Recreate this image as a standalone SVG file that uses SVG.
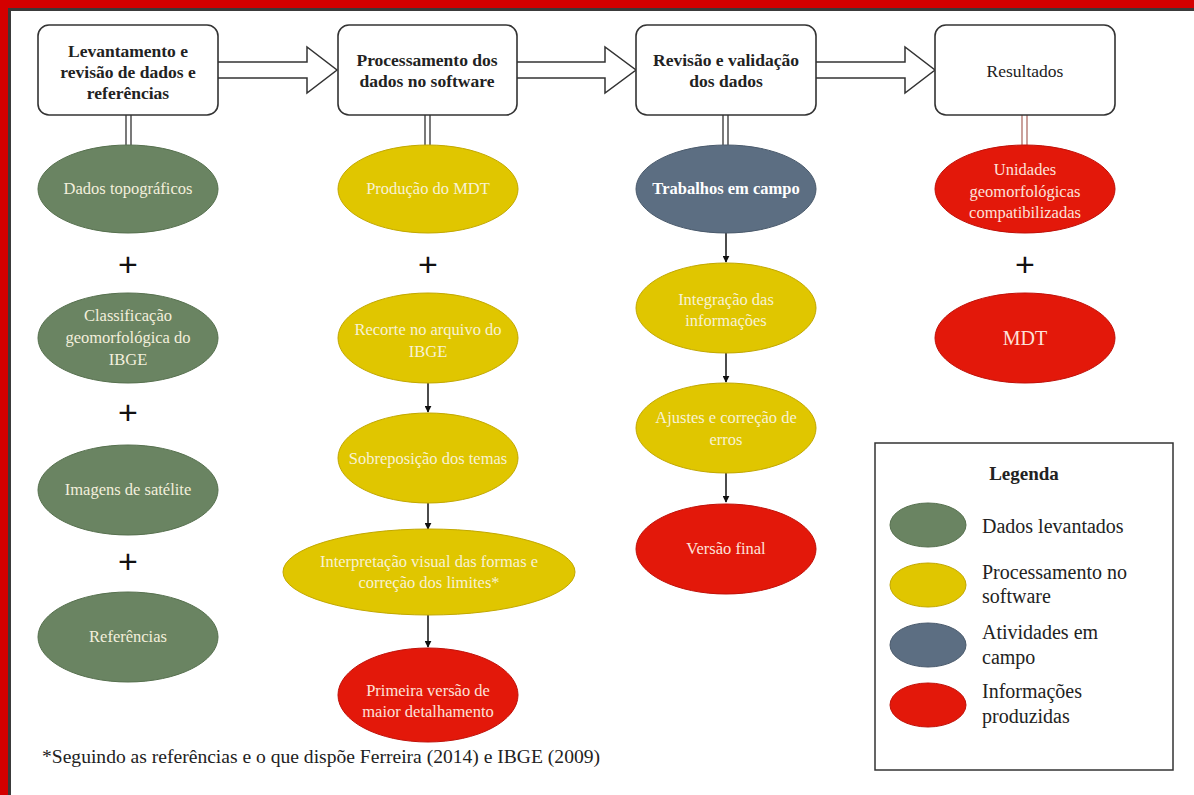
<svg xmlns="http://www.w3.org/2000/svg" width="1194" height="795" viewBox="0 0 1194 795">
<defs>
<style>
.box{fill:#fff;stroke:#333;stroke-width:1.6}
.blk{fill:#fff;stroke:#333;stroke-width:1.5;stroke-linejoin:miter}
.bt{font-family:"Liberation Serif",serif;font-size:17.5px;font-weight:bold;fill:#222;text-anchor:middle}
.btn{font-family:"Liberation Serif",serif;font-size:17.5px;fill:#222;text-anchor:middle}
.g{fill:#6a8462;stroke:#56704e;stroke-width:1}
.y{fill:#e0c600;stroke:#c2a800;stroke-width:1}
.b{fill:#5c6e82;stroke:#4a5a6c;stroke-width:1}
.r{fill:#e3180a;stroke:#c01008;stroke-width:1}
.et{font-family:"Liberation Serif",serif;font-size:16.5px;text-anchor:middle}
.tg{fill:#f3efdc}
.ty{fill:#f8f2d4}
.tb{fill:#ffffff;font-weight:bold}
.tr{fill:#fde2da}
.plus{font-family:"Liberation Sans",sans-serif;font-size:34px;fill:#111;text-anchor:middle}
.dl{stroke:#222;stroke-width:1.2;fill:none}
.dlr{stroke:#a8635a;stroke-width:1.2;fill:none}
.ar{stroke:#111;stroke-width:1.5;fill:none;marker-end:url(#ah)}
.lt{font-family:"Liberation Serif",serif;font-size:20px;fill:#222}
</style>
<marker id="ah" viewBox="0 0 10 10" refX="9" refY="5" markerWidth="7" markerHeight="7" markerUnits="userSpaceOnUse" orient="auto">
<path d="M0,0 L10,5 L0,10 Z" fill="#111"/>
</marker>
</defs>
<rect width="1194" height="795" fill="#fff"/>
<!-- frame -->
<rect x="0" y="0" width="1194" height="8" fill="#d40000"/>
<rect x="0" y="0" width="8" height="795" fill="#d40000"/>
<path d="M9.5,795 V9.5 H1194" fill="none" stroke="#3a3a3a" stroke-width="3"/>

<g id="connectors">
<path class="blk" d="M218,62 H307 V47 L337,70 L307,93 V78 H218"/>
<path class="blk" d="M517,62 H605 V47 L636,70 L605,93 V78 H517"/>
<path class="blk" d="M816,62 H905 V47 L935,70 L905,93 V78 H816"/>
<path class="dl" d="M126,115 V145 M131,115 V145"/>
<path class="dl" d="M425,115 V145 M430,115 V145"/>
<path class="dl" d="M723,115 V145 M728,115 V145"/>
<path class="dlr" d="M1022,115 V145 M1027,115 V145"/>
<path class="ar" d="M428,383 V412"/>
<path class="ar" d="M428,503 V529"/>
<path class="ar" d="M428,615 V647"/>
<path class="ar" d="M726,233 V262"/>
<path class="ar" d="M726,353 V382"/>
<path class="ar" d="M726,473 V502"/>
</g>

<g id="box1"><rect class="box" x="38" y="25" width="180" height="90" rx="11"/>
<text class="bt" x="128" y="57">Levantamento e</text>
<text class="bt" x="128" y="78">revisão de dados e</text>
<text class="bt" x="128" y="99">referências</text></g>
<g id="box2"><rect class="box" x="338" y="25" width="179" height="90" rx="11"/>
<text class="bt" x="427" y="66">Processamento dos</text>
<text class="bt" x="427" y="87">dados no software</text></g>
<g id="box3"><rect class="box" x="636" y="25" width="180" height="90" rx="11"/>
<text class="bt" x="726" y="66">Revisão e validação</text>
<text class="bt" x="726" y="87">dos dados</text></g>
<g id="box4"><rect class="box" x="935" y="25" width="180" height="90" rx="11"/>
<text class="btn" x="1025" y="77">Resultados</text></g>

<g id="n-dados-topo"><ellipse class="g" cx="128" cy="189" rx="90" ry="44"/>
<text class="et tg" x="128" y="194">Dados topográficos</text></g>
<g id="plus1"><text class="plus" x="128" y="276">+</text></g>
<g id="n-classif"><ellipse class="g" cx="128" cy="338" rx="90" ry="45"/>
<text class="et tg" x="128" y="321">Classificação</text>
<text class="et tg" x="128" y="343">geomorfológica do</text>
<text class="et tg" x="128" y="365">IBGE</text></g>
<g id="plus2"><text class="plus" x="128" y="424">+</text></g>
<g id="n-imagens"><ellipse class="g" cx="128" cy="490" rx="90" ry="45"/>
<text class="et tg" x="128" y="495">Imagens de satélite</text></g>
<g id="plus3"><text class="plus" x="128" y="573">+</text></g>
<g id="n-refs"><ellipse class="g" cx="128" cy="637" rx="90" ry="45"/>
<text class="et tg" x="128" y="642">Referências</text></g>

<g id="n-mdt-prod"><ellipse class="y" cx="428" cy="189" rx="90" ry="44"/>
<text class="et ty" x="428" y="194">Produção do MDT</text></g>
<g id="plus4"><text class="plus" x="428" y="276">+</text></g>
<g id="n-recorte"><ellipse class="y" cx="428" cy="338" rx="90" ry="45"/>
<text class="et ty" x="428" y="335">Recorte no arquivo do</text>
<text class="et ty" x="428" y="357">IBGE</text></g>
<g id="n-sobrep"><ellipse class="y" cx="428" cy="458" rx="90" ry="45"/>
<text class="et ty" x="428" y="464">Sobreposição dos temas</text></g>
<g id="n-interp"><ellipse class="y" cx="429" cy="572" rx="146" ry="43"/>
<text class="et ty" x="429" y="567">Interpretação visual das formas e</text>
<text class="et ty" x="429" y="588">correção dos limites*</text></g>
<g id="n-primeira"><ellipse class="r" cx="428" cy="695" rx="90" ry="47"/>
<text class="et tr" x="428" y="696">Primeira versão de</text>
<text class="et tr" x="428" y="717">maior detalhamento</text></g>

<g id="n-campo"><ellipse class="b" cx="726" cy="189" rx="90" ry="44"/>
<text class="et tb" x="726" y="194">Trabalhos em campo</text></g>
<g id="n-integr"><ellipse class="y" cx="726" cy="308" rx="90" ry="45"/>
<text class="et ty" x="726" y="305">Integração das</text>
<text class="et ty" x="726" y="326">informações</text></g>
<g id="n-ajustes"><ellipse class="y" cx="726" cy="428" rx="90" ry="45"/>
<text class="et ty" x="726" y="423">Ajustes e correção de</text>
<text class="et ty" x="726" y="445">erros</text></g>
<g id="n-versao"><ellipse class="r" cx="726" cy="549" rx="90" ry="45"/>
<text class="et tr" x="726" y="554">Versão final</text></g>

<g id="n-unidades"><ellipse class="r" cx="1025" cy="189" rx="90" ry="44"/>
<text class="et tr" x="1025" y="175">Unidades</text>
<text class="et tr" x="1025" y="197">geomorfológicas</text>
<text class="et tr" x="1025" y="218">compatibilizadas</text></g>
<g id="plus5"><text class="plus" x="1025" y="276">+</text></g>
<g id="n-mdt"><ellipse class="r" cx="1025" cy="338" rx="90" ry="45"/>
<text class="et tr" x="1025" y="345" style="font-size:20px">MDT</text></g>

<g id="legend">
<rect x="875" y="443" width="298" height="327" fill="#fff" stroke="#333" stroke-width="1.5"/>
<text class="lt" x="1024" y="480" text-anchor="middle" font-weight="bold" style="font-size:19px">Legenda</text>
<ellipse class="g" cx="928" cy="525" rx="38" ry="22"/>
<text class="lt" x="982" y="533">Dados levantados</text>
<ellipse class="y" cx="928" cy="585" rx="38" ry="22"/>
<text class="lt" x="982" y="579">Processamento no</text>
<text class="lt" x="982" y="603">software</text>
<ellipse class="b" cx="928" cy="645" rx="38" ry="22"/>
<text class="lt" x="982" y="639">Atividades em</text>
<text class="lt" x="982" y="664">campo</text>
<ellipse class="r" cx="928" cy="705" rx="38" ry="22"/>
<text class="lt" x="982" y="698">Informações</text>
<text class="lt" x="982" y="723">produzidas</text>
</g>

<g id="footnote"><text x="42" y="763" font-family="Liberation Serif, serif" font-size="19px" fill="#222" textLength="558" lengthAdjust="spacingAndGlyphs">*Seguindo as referências e o que dispõe Ferreira (2014) e IBGE (2009)</text></g>
</svg>
